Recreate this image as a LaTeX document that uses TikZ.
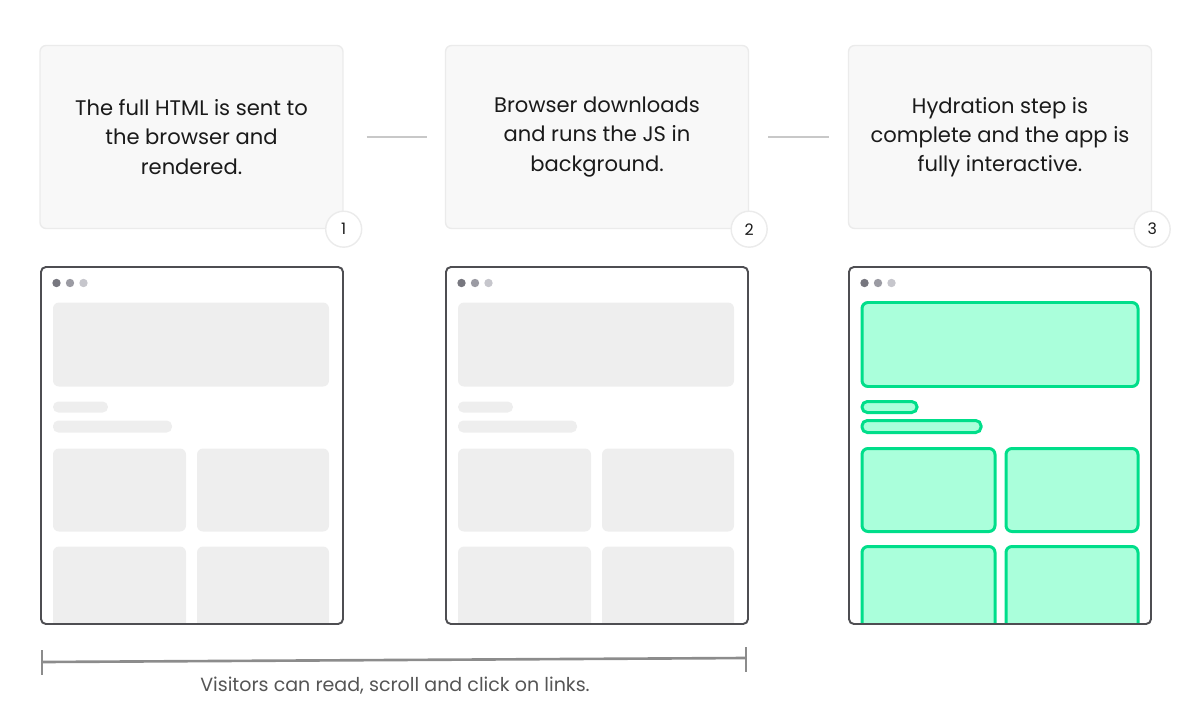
\documentclass[tikz,border=0pt]{standalone}
\usepackage{fontspec}
\usepackage{xcolor}
\usetikzlibrary{positioning}

\newfontfamily\uifont{Poppins}

\definecolor{cardfill}{HTML}{F8F8F8}
\definecolor{cardline}{HTML}{EBEBEB}
\definecolor{inktext}{HTML}{1A1A1A}
\definecolor{linkgray}{HTML}{C8C8C8}
\definecolor{framegray}{HTML}{4E4E52}
\definecolor{blockgray}{HTML}{EEEEEE}
\definecolor{dotA}{HTML}{77777F}
\definecolor{dotB}{HTML}{9B9BA3}
\definecolor{dotC}{HTML}{C6C6CC}
\definecolor{mintfill}{HTML}{AAFFDB}
\definecolor{mintline}{HTML}{00DE8A}
\definecolor{bracegray}{HTML}{8C8C8C}
\definecolor{notegray}{HTML}{555555}

\tikzset{
  card/.style={draw=cardline, line width=0.8pt, fill=cardfill, rounded corners=3.4pt,
    minimum width=6.06cm, minimum height=3.66cm, align=center, text=inktext,
    font=\uifont\fontsize{12}{16.6}\selectfont},
  stepnum/.style={draw=cardline, line width=0.8pt, fill=white, circle, minimum size=0.72cm,
    inner sep=0pt, text=inktext, font=\uifont\fontsize{9}{10}\selectfont},
  ghost/.style={fill=blockgray},
  live/.style={fill=mintfill, draw=mintline, line width=1.7pt},
}

\begin{document}
\begin{tikzpicture}[x=0.02cm, y=-0.02cm]
\useasboundingbox (0,0) rectangle (1190,717);

% Define the three step cards
\node[card] (card1) at (191.5,137) {The full HTML is sent to\\the browser and\\rendered.};
\node[card] (card2) at (597,137) {Browser downloads\\and runs the JS in\\background.};
\node[card] (card3) at (1000,137) {Hydration step is\\complete and the app is\\fully interactive.};

% Step numbers on the lower right corners
\node[stepnum] (step1) at (card1.south east) {1};
\node[stepnum] (step2) at (card2.south east) {2};
\node[stepnum] (step3) at (card3.south east) {3};

% Connect the cards
\draw[linkgray, line width=1.1pt] ([xshift=0.46cm]card1.east) -- ([xshift=-0.36cm]card2.west);
\draw[linkgray, line width=1.1pt] ([xshift=0.38cm]card2.east) -- ([xshift=-0.38cm]card3.west);

% Browser windows
\foreach \o/\d/\blk in {0/0/ghost,405/0/ghost,808/1/live}{
  \begin{scope}[shift={(\o,0)}]
    \begin{scope}
      \clip[rounded corners=2.8pt] (41,267) rectangle (343,624);
      \begin{scope}[shift={(\d,0.5)}]
        \path[\blk, rounded corners=3.4pt] (53,302) rectangle (329,386);
        \path[\blk, rounded corners=3pt] (53,401) rectangle (108,412);
        \path[\blk, rounded corners=3pt] (53,420) rectangle (172,432);
        \path[\blk, rounded corners=3.4pt] (53,448) rectangle (186,531);
        \path[\blk, rounded corners=3.4pt] (197,448) rectangle (329,531);
        \path[\blk, rounded corners=3.4pt] (53,546) rectangle (186,650);
        \path[\blk, rounded corners=3.4pt] (197,546) rectangle (329,650);
      \end{scope}
    \end{scope}
    \fill[dotA] (56.5,283) circle (4.2);
    \fill[dotB] (70,283) circle (4.2);
    \fill[dotC] (83.5,283) circle (4.2);
    \draw[framegray, line width=1.1pt, rounded corners=2.8pt] (41,267) rectangle (343,624);
  \end{scope}
}

% Bracket under the first two windows
\coordinate (braceL) at (42,662);
\coordinate (braceR) at (746,658);
\draw[bracegray, line width=1.5pt] (braceL) -- (braceR);
\draw[bracegray, line width=1.5pt] ([yshift=0.24cm]braceL) -- ([yshift=-0.26cm]braceL);
\draw[bracegray, line width=1.5pt] ([yshift=0.22cm]braceR) -- ([yshift=-0.28cm]braceR);
\node[text=notegray, font=\uifont\fontsize{10.85}{13}\selectfont] (note) at (395,686) {Visitors can read, scroll and click on links.};

\end{tikzpicture}
\end{document}
